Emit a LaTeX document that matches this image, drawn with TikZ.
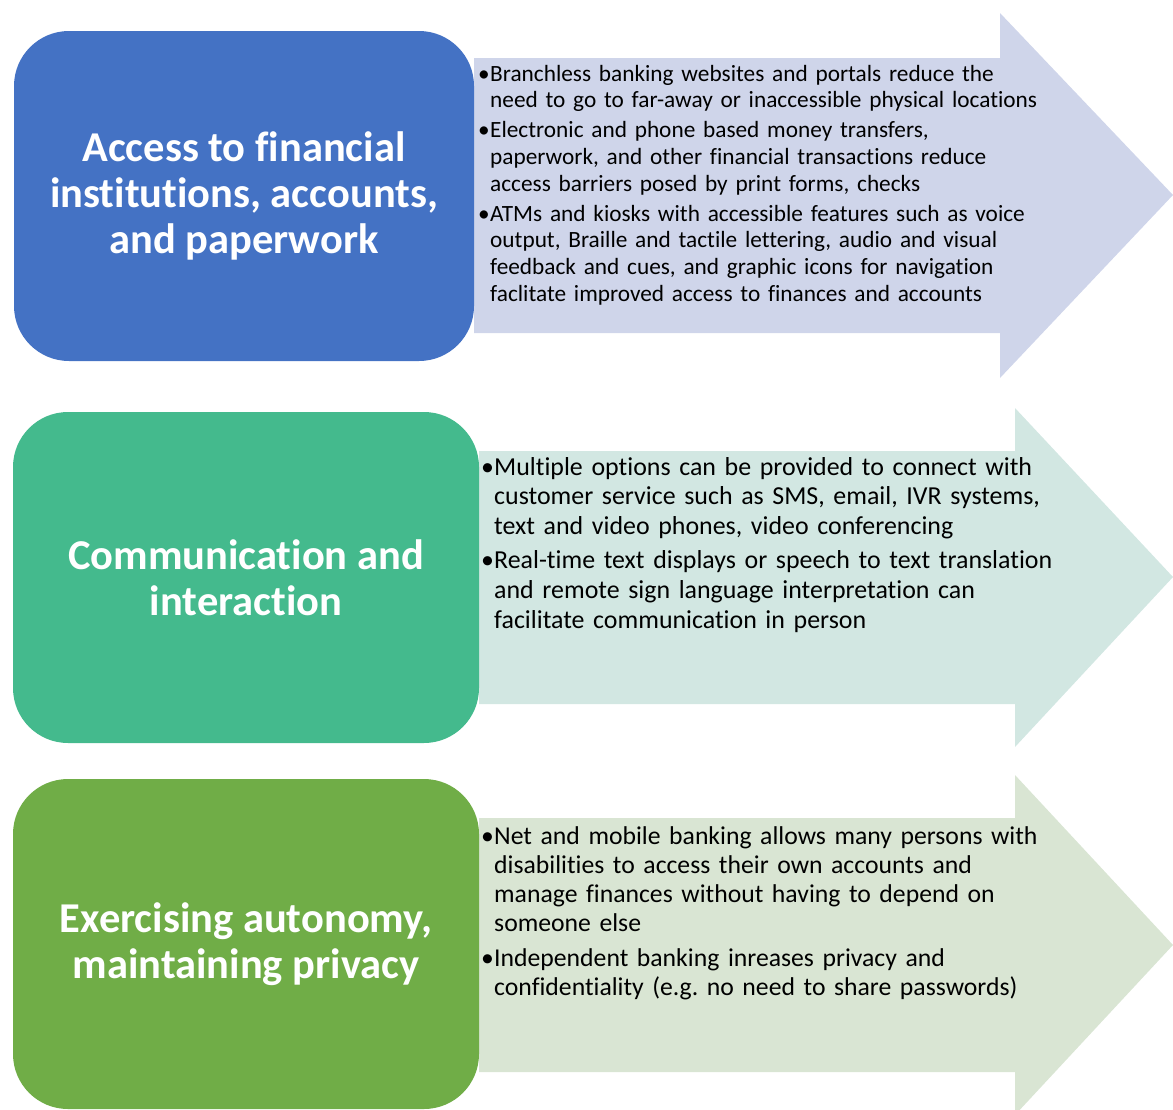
\documentclass[tikz,border=0pt]{standalone}
\usepackage{fontspec}
\setmainfont{Carlito}[Ligatures={NoCommon}]
\definecolor{boxA}{HTML}{4472C4}
\definecolor{boxB}{HTML}{44BA8D}
\definecolor{boxC}{HTML}{70AD47}
\definecolor{arrA}{HTML}{CFD5EA}
\definecolor{arrB}{HTML}{D2E7E2}
\definecolor{arrC}{HTML}{D9E5D3}
\newcommand{\bitem}[2]{\par\hangindent=#1\hangafter=1\noindent\makebox[#1][l]{\textbullet}#2\par}
\begin{document}
\begin{tikzpicture}[x=1pt,y=-1pt,
  titlebox/.style={rounded corners=55pt, text=white, font=\bfseries\fontsize{42.5}{46}\selectfont, align=center, inner sep=0pt},
  bodytext/.style={anchor=north west, inner sep=0pt, text width=690pt}]
\useasboundingbox (0,0) rectangle (1173,1109);
% arrows
\fill[arrA] (474,58) -- (1000,58) -- (1000,13) -- (1173,195) -- (1000,378) -- (1000,333) -- (474,333) -- cycle;
\fill[arrB] (479,451) -- (1015,451) -- (1015,408) -- (1173,577) -- (1015,747) -- (1015,704) -- (479,704) -- cycle;
\fill[arrC] (479,818) -- (1015,818) -- (1015,775) -- (1173,945) -- (1015,1115) -- (1015,1072) -- (479,1072) -- cycle;
% title boxes
\node[titlebox, fill=boxA, minimum width=460pt, minimum height=330pt] (b1) at (244,196)
  {Access to financial\\institutions, accounts,\\and paperwork};
\node[titlebox, fill=boxB, minimum width=466pt, minimum height=331pt] (b2) at (246,577.5)
  {Communication and\\interaction};
\node[titlebox, fill=boxC, minimum width=466pt, minimum height=330pt] (b3) at (246,944)
  {Exercising autonomy,\\maintaining privacy};
% body texts
\node[bodytext, font=\fontsize{23.3}{26.8}\selectfont] (t1) at (478,51) {%
  \setlength{\parskip}{3pt}%
  \bitem{12pt}{Branchless banking websites and portals reduce the\newline need to go to far-away or inaccessible physical locations}%
  \bitem{12pt}{Electronic and phone based money transfers,\newline paperwork, and other financial transactions reduce\newline access barriers posed by print forms, checks}%
  \bitem{12pt}{ATMs and kiosks with accessible features such as voice\newline output, Braille and tactile lettering, audio and visual\newline feedback and cues, and graphic icons for navigation\newline faclitate improved access to finances and accounts}};
\node[bodytext, font=\fontsize{25.9}{29.8}\selectfont] (t2) at (481,441) {%
  \setlength{\parskip}{4pt}%
  \bitem{13pt}{Multiple options can be provided to connect with\newline customer service such as SMS, email, IVR systems,\newline text and video phones, video conferencing}%
  \bitem{13pt}{Real-time text displays or speech to text translation\newline and remote sign language interpretation can\newline facilitate communication in person}};
\node[bodytext, font=\fontsize{25.7}{29}\selectfont] (t3) at (481,809) {%
  \setlength{\parskip}{6pt}%
  \bitem{13pt}{Net and mobile banking allows many persons with\newline disabilities to access their own accounts and\newline manage finances without having to depend on\newline someone else}%
  \bitem{13pt}{Independent banking inreases privacy and\newline confidentiality (e.g.\ no need to share passwords)}};
\end{tikzpicture}
\end{document}
